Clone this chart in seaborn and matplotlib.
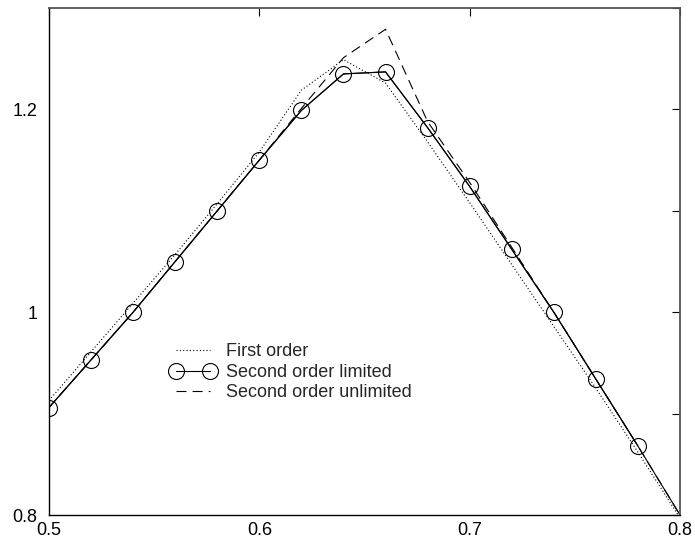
import numpy as np
import pandas as pd
import seaborn as sns
import matplotlib
matplotlib.use("Agg")
import matplotlib.pyplot as plt
from matplotlib.ticker import MultipleLocator, FuncFormatter

# values
x = [0.50, 0.52, 0.54, 0.56, 0.58, 0.60, 0.62, 0.64,
     0.66, 0.68, 0.70, 0.72, 0.74, 0.76, 0.78, 0.80]
first_order = [0.913, 0.961, 1.009, 1.057, 1.107, 1.158, 1.219, 1.249,
               1.226, 1.168, 1.108, 1.047, 0.986, 0.925, 0.862, 0.797]
second_limited = [0.906, 0.953, 1.000, 1.050, 1.100, 1.150, 1.199, 1.235,
                  1.237, 1.182, 1.124, 1.062, 1.000, 0.934, 0.868, 0.800]
second_unlimited = [0.906, 0.953, 1.000, 1.050, 1.100, 1.150, 1.201, 1.251,
                    1.279, 1.188, 1.128, 1.064, 1.000, 0.934, 0.868, 0.800]

df = pd.DataFrame({"x": x, "first": first_order,
                   "limited": second_limited, "unlimited": second_unlimited})

sns.set_style("white")
plt.rcParams['font.family'] = ['Liberation Sans', 'DejaVu Sans']

fig = plt.figure(figsize=(6.95, 5.42), dpi=100)
ax = fig.add_axes([49 / 695, 27 / 542, 631 / 695, 507 / 542])

lw = 0.8
sns.lineplot(data=df, x="x", y="first", ax=ax, color="black", lw=lw,
             label="First order").lines[-1].set_dashes((1, 2))

# solid line over every point, markers only where the reference shows them
sns.lineplot(data=df, x="x", y="limited", ax=ax, color="black", lw=lw)
sns.lineplot(data=df.iloc[:-1], x="x", y="limited", ax=ax, color="black", lw=lw,
             marker="o", markersize=11.5, markerfacecolor="none",
             markeredgecolor="black", markeredgewidth=0.8,
             label="Second order limited")

line = sns.lineplot(data=df, x="x", y="unlimited", ax=ax, color="black", lw=lw,
                    label="Second order unlimited").lines[-1]
line.set_dashes((9, 5.5))

ax.set_xlim(0.5, 0.8)
ax.set_ylim(0.8, 1.3)
ax.set_xlabel("")
ax.set_ylabel("")

ax.xaxis.set_major_locator(MultipleLocator(0.1))
ax.yaxis.set_major_locator(MultipleLocator(0.2))
ax.yaxis.set_minor_locator(MultipleLocator(0.1))
fmt = FuncFormatter(lambda v, p: f"{v:g}")
ax.xaxis.set_major_formatter(fmt)
ax.yaxis.set_major_formatter(fmt)
ax.tick_params(which="both", direction="in", length=6, width=0.8,
               top=True, right=True, color="black", labelsize=13,
               labelcolor="black")
ax.tick_params(axis="x", pad=5)
ax.tick_params(axis="y", pad=8.5)

for side in ["left", "bottom"]:
    ax.spines[side].set_color("black")
    ax.spines[side].set_linewidth(1.0)
for side in ["top", "right"]:
    ax.spines[side].set_color("#555555")
    ax.spines[side].set_linewidth(1.3)

ax.legend(loc="upper left", bbox_to_anchor=(0.182, 0.353), frameon=False,
          fontsize=13, handlelength=2.45, handletextpad=0.6,
          labelspacing=0.2, borderaxespad=0, numpoints=2)

fig.savefig("out.png", dpi=100)
